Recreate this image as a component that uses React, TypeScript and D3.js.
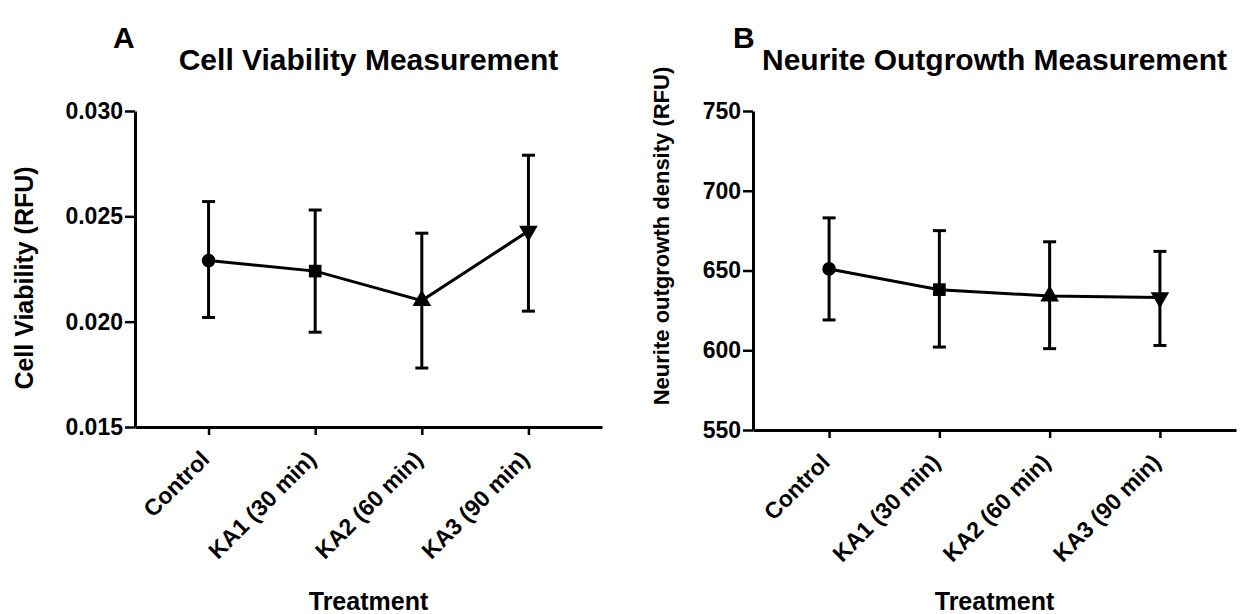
import { useEffect, useRef } from 'react';
import * as d3 from 'd3';

const categories = ['Control', 'KA1 (30 min)', 'KA2 (60 min)', 'KA3 (90 min)'];
const markerShapes = ['circle', 'square', 'triangle', 'triangleDown'];

// Panel A: cell viability (RFU)
const viabilityMean = [0.0229, 0.0224, 0.0210, 0.0243];
const viabilityUpper = [0.0257, 0.0253, 0.0242, 0.0279];
const viabilityLower = [0.0202, 0.0195, 0.0178, 0.0205];
const viabilityTicks = [0.015, 0.02, 0.025, 0.03];

// Panel B: neurite outgrowth density (RFU)
const neuriteMean = [651, 638, 634, 633];
const neuriteUpper = [683, 675, 668, 662];
const neuriteLower = [619, 602, 601, 603];
const neuriteTicks = [550, 600, 650, 700, 750];

const FONT = '"Liberation Sans", Arial, sans-serif';

const panels = [
  {
    letter: 'A', letterX: 113, letterY: 48,
    title: 'Cell Viability Measurement', titleY: 70,
    yLabel: 'Cell Viability (RFU)', yLabelX: 24, yLabelY: 278, yLabelSize: 25,
    x0: 135, x1: 602, yTop: 111, yBottom: 427,
    domain: [0.015, 0.03], ticks: viabilityTicks, fmt: d3.format('.3f'),
    mean: viabilityMean, upper: viabilityUpper, lower: viabilityLower,
  },
  {
    letter: 'B', letterX: 733, letterY: 48,
    title: 'Neurite Outgrowth Measurement', titleY: 70,
    yLabel: 'Neurite outgrowth density (RFU)', yLabelX: 661, yLabelY: 236, yLabelSize: 22,
    x0: 753, x1: 1236, yTop: 111, yBottom: 430,
    domain: [550, 750], ticks: neuriteTicks, fmt: d3.format('d'),
    mean: neuriteMean, upper: neuriteUpper, lower: neuriteLower,
  },
];

const App = () => {
  const svgRef = useRef(null);

  useEffect(() => {
    const svg = d3.select(svgRef.current);
    svg.selectAll('*').remove();

    panels.forEach(p => {
      const g = svg.append('g');

      const x = d3.scalePoint().domain(categories).range([p.x0, p.x1]).padding(0.69);
      const y = d3.scaleLinear().domain(p.domain).range([p.yBottom, p.yTop]);

      // panel letter + title
      g.append('text')
        .attr('x', p.letterX).attr('y', p.letterY)
        .attr('font-size', 30).attr('font-weight', 'bold')
        .text(p.letter);
      g.append('text')
        .attr('x', (p.x0 + p.x1) / 2).attr('y', p.titleY)
        .attr('text-anchor', 'middle')
        .attr('font-size', 30).attr('font-weight', 'bold')
        .text(p.title);

      // y axis
      const yAxis = g.append('g')
        .attr('transform', `translate(${p.x0},0)`)
        .call(d3.axisLeft(y).tickValues(p.ticks).tickFormat(p.fmt).tickSize(10).tickSizeOuter(0).tickPadding(2));
      yAxis.select('.domain').attr('stroke-width', 3);
      yAxis.selectAll('.tick line').attr('stroke-width', 2.5);
      yAxis.selectAll('.tick text')
        .attr('font-size', 23).attr('font-weight', 'bold')
        .attr('font-family', FONT).attr('fill', '#000');

      // x axis
      const xAxis = g.append('g')
        .attr('transform', `translate(0,${p.yBottom})`)
        .call(d3.axisBottom(x).tickSize(8).tickSizeOuter(0));
      xAxis.select('.domain').attr('stroke-width', 3);
      xAxis.selectAll('.tick line').attr('stroke-width', 2.5);
      xAxis.selectAll('.tick text')
        .attr('font-size', 23).attr('font-weight', 'bold')
        .attr('font-family', FONT).attr('fill', '#000')
        .attr('text-anchor', 'end')
        .attr('dy', 0)
        .attr('transform', 'translate(-6,26) rotate(-45)');

      // axis titles
      g.append('text')
        .attr('transform', `translate(${p.yLabelX},${p.yLabelY}) rotate(-90)`)
        .attr('text-anchor', 'middle').attr('dominant-baseline', 'central')
        .attr('font-size', p.yLabelSize).attr('font-weight', 'bold')
        .text(p.yLabel);
      g.append('text')
        .attr('x', (p.x0 + p.x1) / 2).attr('y', 610)
        .attr('text-anchor', 'middle')
        .attr('font-size', 25).attr('font-weight', 'bold')
        .text('Treatment');

      const rows = categories.map((c, i) => ({
        c, m: p.mean[i], hi: p.upper[i], lo: p.lower[i], shape: markerShapes[i],
      }));

      // error bars
      const eb = g.append('g').attr('stroke', '#000').attr('stroke-width', 3);
      rows.forEach(d => {
        const cx = x(d.c);
        eb.append('line').attr('x1', cx).attr('x2', cx).attr('y1', y(d.hi)).attr('y2', y(d.lo));
        eb.append('line').attr('x1', cx - 6.5).attr('x2', cx + 6.5).attr('y1', y(d.hi)).attr('y2', y(d.hi));
        eb.append('line').attr('x1', cx - 6.5).attr('x2', cx + 6.5).attr('y1', y(d.lo)).attr('y2', y(d.lo));
      });

      // connecting line
      const line = d3.line().x(d => x(d.c)).y(d => y(d.m));
      g.append('path').datum(rows)
        .attr('d', line).attr('fill', 'none')
        .attr('stroke', '#000').attr('stroke-width', 3);

      // markers
      const symbolFor = {
        circle: d3.symbolCircle, square: d3.symbolSquare,
        triangle: d3.symbolTriangle, triangleDown: d3.symbolTriangle,
      };
      const sizeFor = { circle: 145, square: 160, triangle: 150, triangleDown: 150 };
      rows.forEach(d => {
        g.append('path')
          .attr('d', d3.symbol().type(symbolFor[d.shape]).size(sizeFor[d.shape])())
          .attr('transform', `translate(${x(d.c)},${y(d.m)})${d.shape === 'triangleDown' ? ' rotate(180)' : ''}`)
          .attr('fill', '#000');
      });
    });
  }, []);

  return (
    <svg
      ref={svgRef}
      width={1249}
      height={614}
      style={{ position: 'absolute', left: 0, top: 0, background: '#fff', fontFamily: FONT }}
    />
  );
};

export default App;
